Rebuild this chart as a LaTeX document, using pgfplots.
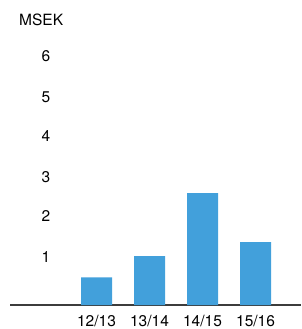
\documentclass[border=0pt]{standalone}
\usepackage{pgfplots}
\pgfplotsset{compat=1.18}
\usepackage{fontspec}
\setmainfont{TeX Gyre Heros}
\definecolor{barblue}{RGB}{66,160,219}
\definecolor{axisgray}{RGB}{60,60,60}
\begin{document}
\begin{tikzpicture}
\path[use as bounding box] (0,0) rectangle (301pt,329pt);
\begin{axis}[
  at={(10pt,24pt)}, anchor=south west,
  scale only axis, width=291pt, height=280pt,
  xmin=-1.632, xmax=3.858, ymin=0, ymax=7,
  axis x line*=bottom, axis y line*=left,
  x axis line style={-, color=axisgray, line width=1.3pt},
  y axis line style={draw=none},
  xtick={0,1,2,3}, xticklabels={12/13,13/14,14/15,15/16},
  ytick={1,2,3,4,5,6},
  major tick length=0pt,
  /pgf/number format/assume math mode=true,
  tick label style={font=\fontsize{15.5}{18}\selectfont, text=black},
  xticklabel style={anchor=base, yshift=-21.7pt},
  yticklabel style={anchor=base, xshift=36pt, yshift=3pt},
  ybar, bar width=31pt,
  clip=false,
]
\addplot[fill=barblue, draw=none] coordinates {(0,0.69) (1,1.225) (2,2.8) (3,1.575)};
\end{axis}
\node[anchor=base west, inner sep=0pt, font=\fontsize{15.5}{18}\selectfont] at (19pt,303.7pt) {MSEK};
\end{tikzpicture}
\end{document}
